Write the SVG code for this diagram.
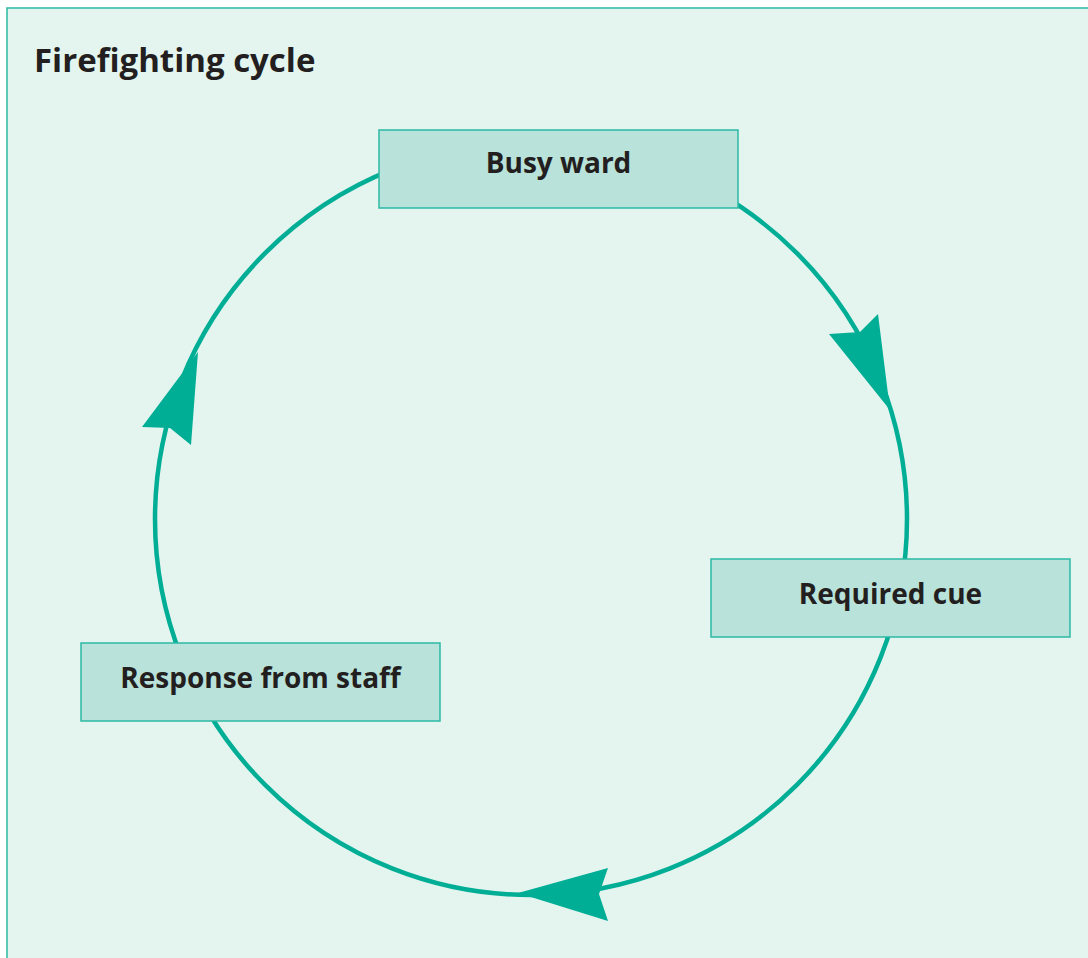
<svg xmlns="http://www.w3.org/2000/svg" width="1088" height="958" viewBox="0 0 1088 958">
<style>
.bg{fill:#e4f4ef;stroke:#2db9a4;stroke-width:1.5}
.node rect{fill:#b9e2da;stroke:#2db9a4;stroke-width:1.5}
.node text{font-family:"Open Sans","Noto Sans",sans-serif;font-weight:700;font-size:28px;fill:#231f20;text-anchor:middle}
.title{font-family:"Open Sans","Noto Sans",sans-serif;font-weight:700;font-size:33px;fill:#231f20}
.ring{fill:none;stroke:#00ae96;stroke-width:4.5}
.head{fill:#00ae96}
</style>
<rect class="bg" x="7" y="8" width="1100" height="1000"/>
<text class="title" x="34" y="72">Firefighting cycle</text>
<g id="connectors">
<circle class="ring" cx="531" cy="519" r="376"/>
<polygon class="head" points="890,410 829,334 860,332 878,314"/>
<polygon class="head" points="518,893 608,868 599,894 608,921"/>
<polygon class="head" points="198,352 191,445 170,428 142,427"/>
</g>
<g id="busy-ward" class="node">
<rect x="379" y="130" width="359" height="78"/>
<text x="558.5" y="173">Busy ward</text>
</g>
<g id="required-cue" class="node">
<rect x="711" y="559" width="359" height="78"/>
<text x="890.5" y="604">Required cue</text>
</g>
<g id="response-from-staff" class="node">
<rect x="81" y="643" width="359" height="78"/>
<text x="260.5" y="688">Response from staff</text>
</g>
</svg>
